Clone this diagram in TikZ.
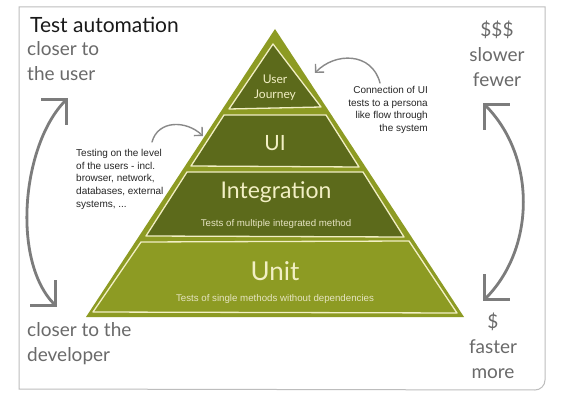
\documentclass[tikz,border=0pt]{standalone}
\usepackage{fontspec}
\setmainfont{Liberation Sans}
\newfontfamily\handfont{Lato}
\usetikzlibrary{arrows.meta}
\definecolor{olivelight}{HTML}{8D9B23}
\definecolor{olivedark}{HTML}{5C6A1B}
\definecolor{creamline}{HTML}{F2EFC4}
\definecolor{creamtext}{HTML}{E6E4C2}
\definecolor{handgray}{HTML}{6A6A6A}
\definecolor{arrowgray}{HTML}{7C7C7C}
\definecolor{framegray}{HTML}{BDBDBD}
\begin{document}
\begin{tikzpicture}[x=1pt,y=-1pt,
  band/.style={fill=olivedark, draw=creamline, line width=1.3pt, line join=round},
  unitband/.style={fill=olivelight, draw=creamline, line width=1.3pt, line join=round},
  bandtitle/.style={text=creamline, font=\handfont\fontsize{#1}{#1}\selectfont, inner sep=0pt},
  bandsub/.style={text=creamtext, font=\fontsize{9.7}{12}\selectfont, inner sep=0pt},
  note/.style={text=black!85, font=\fontsize{10}{12.7}\selectfont, inner sep=0pt},
  handnote/.style={text=handgray, font=\handfont\fontsize{19}{25}\selectfont, inner sep=0pt},
  bigarrow/.style={draw=arrowgray, line width=2.8pt, line cap=round,
     arrows={Straight Barb[length=18pt,width=36pt]-Straight Barb[length=18pt,width=36pt]}},
  smallarrow/.style={draw=arrowgray!90, line width=1.4pt, line cap=round,
     -{Straight Barb[length=6pt,width=12pt]}}
]
\useasboundingbox (0,0) rectangle (571,409);
\fill[white] (0,0) rectangle (571,409);
% frame
\draw[framegray, line width=1pt] (19,7) -- (545,7) -- (545,380) to[out=-90,in=0] (535,390) -- (19,389) -- cycle;

% pyramid
\fill[olivelight] (275,29) -- (464,317) -- (86,317) -- cycle;
\draw[unitband] (141,242) -- (409,241) -- (457,313) -- (93,312) -- cycle;
\draw[band] (146,236) -- (187,172) -- (363,172) -- (404,237) -- cycle;
\draw[band] (191,166) -- (224,115) -- (326,115) -- (359,167) -- cycle;
\draw[band] (273,44) -- (321,107) -- (229,109) -- cycle;

% band texts
\node[bandtitle=12] (uj1) at (275,79) {User};
\node[bandtitle=12] (uj2) at (275,95) {Journey};
\node[bandtitle=21] (ui) at (275,143) {UI};
\node[bandtitle=23] (integ) at (276,192) {Integration};
\node[bandsub] (integsub) at (276,224) {Tests of multiple integrated method};
\node[bandtitle=26] (unit) at (275,271) {Unit};
\node[bandsub] (unitsub) at (275,299) {Tests of single methods without dependencies};

% notes
\node[note, anchor=north west, align=left] (leftnote) at (76,149)
  {Testing on the level\\of the users - incl.\\browser, network,\\databases, external\\systems, ...};
\node[note, anchor=north east, align=right] (rightnote) at (428,86)
  {Connection of UI\\tests to a persona\\like flow through\\the system};

% title and side labels
\node[anchor=west, inner sep=0pt, text=black!90, font=\handfont\fontsize{21}{21}\selectfont] (title) at (30,25) {Test automation};
\node[handnote, anchor=north west, align=left] (userlbl) at (27,41) {closer to\\the user};
\node[handnote, anchor=north west, align=left] (devlbl) at (27,322) {closer to the\\developer};
\node[handnote, anchor=north, align=center] (costhi) at (497,21) {\$\$\$\\slower\\fewer};
\node[handnote, anchor=north, align=center] (costlo) at (493,313) {\$\\faster\\more};

% connectors
\coordinate (lTop) at (68,98);
\coordinate (lBot) at (57,307);
\coordinate (rTop) at (483,103);
\coordinate (rBot) at (483,301);
\draw[bigarrow] (lBot) .. controls (11,261) and (22,144) .. (lTop);
\draw[bigarrow] (rBot) .. controls (536,248) and (536,156) .. (rTop);

\coordinate (rnStart) at (380,83);
\coordinate (ujTip) at (315,73);
\draw[smallarrow] (rnStart) .. controls (372,52) and (335,52) .. (ujTip);
\coordinate (lnStart) at (152,142);
\coordinate (uiTip) at (203,136);
\draw[smallarrow] (lnStart) .. controls (158,120) and (186,120) .. (uiTip);
\end{tikzpicture}
\end{document}
